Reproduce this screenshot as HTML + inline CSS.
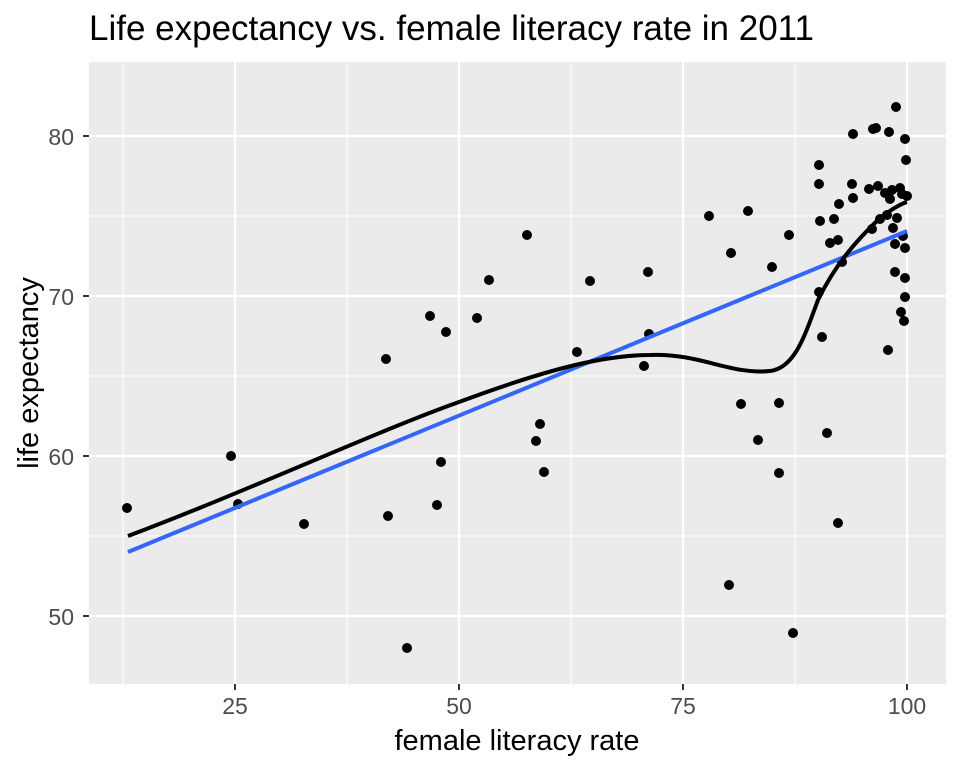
<!DOCTYPE html>
<html><head><meta charset="utf-8"><style>body{margin:0;background:#fff}</style></head><body>
<svg width="960" height="768" xmlns="http://www.w3.org/2000/svg" font-family="Liberation Sans, sans-serif">
<rect width="960" height="768" fill="#fff"/>
<text x="89" y="40" font-size="35" fill="#000">Life expectancy vs. female literacy rate in 2011</text>
<rect x="89" y="62" width="857" height="622" fill="#ebebeb"/>
<g stroke="#fff" stroke-width="1.1">
<line x1="123" x2="123" y1="62" y2="684"/><line x1="347" x2="347" y1="62" y2="684"/><line x1="571" x2="571" y1="62" y2="684"/><line x1="795" x2="795" y1="62" y2="684"/>
<line x1="89" x2="946" y1="216" y2="216"/><line x1="89" x2="946" y1="376" y2="376"/><line x1="89" x2="946" y1="536" y2="536"/>
</g>
<g stroke="#fff" stroke-width="2.2">
<line x1="235" x2="235" y1="62" y2="684"/><line x1="459" x2="459" y1="62" y2="684"/><line x1="683" x2="683" y1="62" y2="684"/><line x1="907" x2="907" y1="62" y2="684"/>
<line x1="89" x2="946" y1="136" y2="136"/><line x1="89" x2="946" y1="296" y2="296"/><line x1="89" x2="946" y1="456" y2="456"/><line x1="89" x2="946" y1="616" y2="616"/>
</g>
<g fill="#000">
<circle cx="127" cy="508" r="5"/><circle cx="231" cy="456" r="5"/><circle cx="238" cy="504" r="5"/><circle cx="304" cy="524" r="5"/>
<circle cx="386" cy="359" r="5"/><circle cx="388" cy="516" r="5"/><circle cx="407" cy="648" r="5"/><circle cx="430" cy="316" r="5"/>
<circle cx="437" cy="505" r="5"/><circle cx="441" cy="462" r="5"/><circle cx="446" cy="332" r="5"/><circle cx="477" cy="318" r="5"/>
<circle cx="489" cy="280" r="5"/><circle cx="527" cy="235" r="5"/><circle cx="536" cy="441" r="5"/><circle cx="540" cy="424" r="5"/>
<circle cx="544" cy="472" r="5"/><circle cx="577" cy="352" r="5"/><circle cx="590" cy="281" r="5"/><circle cx="644" cy="366" r="5"/>
<circle cx="648" cy="272" r="5"/><circle cx="649" cy="334" r="5"/><circle cx="709" cy="216" r="5"/><circle cx="731" cy="253" r="5"/>
<circle cx="729" cy="585" r="5"/><circle cx="741" cy="404" r="5"/><circle cx="748" cy="211" r="5"/><circle cx="758" cy="440" r="5"/>
<circle cx="772" cy="267" r="5"/><circle cx="779" cy="403" r="5"/><circle cx="779" cy="473" r="5"/><circle cx="789" cy="235" r="5"/>
<circle cx="793" cy="633" r="5"/><circle cx="819" cy="165" r="5"/><circle cx="819" cy="184" r="5"/><circle cx="820" cy="221" r="5"/>
<circle cx="819" cy="292" r="5"/><circle cx="822" cy="337" r="5"/><circle cx="827" cy="433" r="5"/><circle cx="830" cy="243" r="5"/>
<circle cx="834" cy="219" r="5"/><circle cx="838" cy="523" r="5"/><circle cx="839" cy="204" r="5"/><circle cx="838" cy="240" r="5"/>
<circle cx="842" cy="262" r="5"/><circle cx="853" cy="134" r="5"/><circle cx="852" cy="184" r="5"/><circle cx="853" cy="198" r="5"/>
<circle cx="869" cy="189" r="5"/><circle cx="873" cy="129" r="5"/><circle cx="876" cy="128" r="5"/><circle cx="872" cy="229" r="5"/>
<circle cx="878" cy="186" r="5"/><circle cx="880" cy="219" r="5"/><circle cx="885" cy="193" r="5"/><circle cx="887" cy="215" r="5"/>
<circle cx="889" cy="132" r="5"/><circle cx="888" cy="350" r="5"/><circle cx="890" cy="199" r="5"/><circle cx="892" cy="190" r="5"/>
<circle cx="893" cy="228" r="5"/><circle cx="895" cy="272" r="5"/><circle cx="896" cy="107" r="5"/><circle cx="895" cy="244" r="5"/>
<circle cx="897" cy="218" r="5"/><circle cx="900" cy="188" r="5"/><circle cx="901" cy="312" r="5"/><circle cx="902" cy="194" r="5"/>
<circle cx="903" cy="236" r="5"/><circle cx="904" cy="321" r="5"/><circle cx="905" cy="139" r="5"/><circle cx="906" cy="160" r="5"/>
<circle cx="905" cy="248" r="5"/><circle cx="905" cy="278" r="5"/><circle cx="905" cy="297" r="5"/><circle cx="907" cy="196" r="5"/>
</g>
<line x1="128" y1="552" x2="907" y2="231" stroke="#3366ff" stroke-width="4"/>
<path d="M128,536 C250,490 380,430 459,402 C540,372 600,355 650,355 C700,353 730,375 770,371 C795,368 805,335 818,300 C835,265 855,242 880,218 C893,208 903,203 907,202" fill="none" stroke="#000" stroke-width="4"/>
<g fill="#4d4d4d" font-size="23">
<text x="235" y="714" text-anchor="middle">25</text><text x="459" y="714" text-anchor="middle">50</text><text x="683" y="714" text-anchor="middle">75</text><text x="907" y="714" text-anchor="middle">100</text>
<text x="74" y="145" text-anchor="end">80</text><text x="74" y="305" text-anchor="end">70</text><text x="74" y="465" text-anchor="end">60</text><text x="74" y="625" text-anchor="end">50</text>
</g>
<g stroke="#333" stroke-width="2">
<line x1="235" x2="235" y1="684" y2="690"/><line x1="459" x2="459" y1="684" y2="690"/><line x1="683" x2="683" y1="684" y2="690"/><line x1="907" x2="907" y1="684" y2="690"/>
<line x1="83" x2="89" y1="136" y2="136"/><line x1="83" x2="89" y1="296" y2="296"/><line x1="83" x2="89" y1="456" y2="456"/><line x1="83" x2="89" y1="616" y2="616"/>
</g>
<text x="517" y="750" text-anchor="middle" font-size="29">female literacy rate</text>
<text transform="translate(38,373) rotate(-90)" text-anchor="middle" font-size="29">life expectancy</text>
</svg>
</body></html>
